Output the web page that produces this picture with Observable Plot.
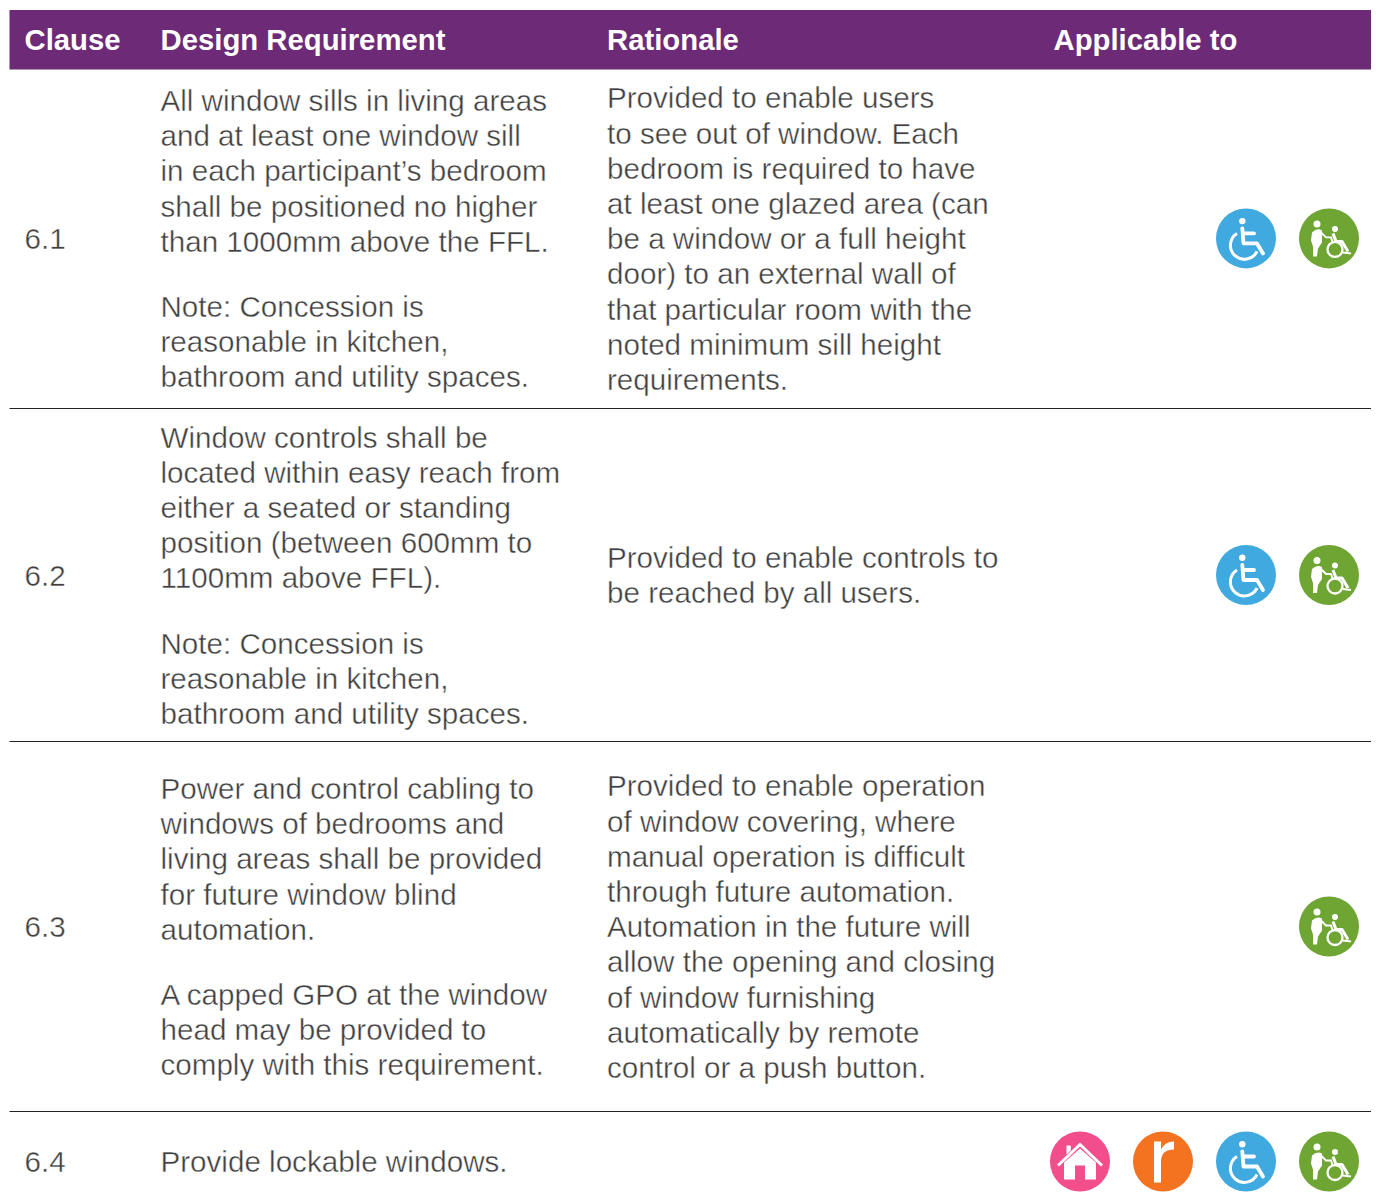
<!DOCTYPE html>
<html><head><meta charset="utf-8">
<script src="https://cdn.jsdelivr.net/npm/d3@7"></script>
<script src="https://cdn.jsdelivr.net/npm/@observablehq/plot@0.6"></script>
<style>html,body{margin:0;padding:0;background:#fff}svg{display:block}</style>
</head><body><div id="c"></div>
<script>
const headers = ["Clause","Design Requirement","Rationale","Applicable to"];
const clauses = ["6.1","6.2","6.3","6.4"];
const requirements = [
 ["All window sills in living areas","and at least one window sill","in each participant’s bedroom","shall be positioned no higher","than 1000mm above the FFL.","","Note: Concession is","reasonable in kitchen,","bathroom and utility spaces."],
 ["Window controls shall be","located within easy reach from","either a seated or standing","position (between 600mm to","1100mm above FFL).","","Note: Concession is","reasonable in kitchen,","bathroom and utility spaces."],
 ["Power and control cabling to","windows of bedrooms and","living areas shall be provided","for future window blind","automation.","","A capped GPO at the window","head may be provided to","comply with this requirement."],
 ["Provide lockable windows."]
];
const rationales = [
 ["Provided to enable users","to see out of window. Each","bedroom is required to have","at least one glazed area (can","be a window or a full height","door) to an external wall of","that particular room with the","noted minimum sill height","requirements."],
 ["Provided to enable controls to","be reached by all users."],
 ["Provided to enable operation","of window covering, where","manual operation is difficult","through future automation.","Automation in the future will","allow the opening and closing","of window furnishing","automatically by remote","control or a push button."],
 []
];
const applicable = [["wheelchair","carer"],["wheelchair","carer"],["carer"],["home","robust","wheelchair","carer"]];

// layout
const W=1376,H=1202,LH=35.2,GAP=30;
const colX=[24,160,606.5,1053];
const headBand=[10,69.5], tableX=[9.5,1371];
const rowCentre=[239.2,575.8,927.3,1162.3];
const rules=[408,741,1111];
const iconX={home:1079.5,robust:1162.5,wheelchair:1245.5,carer:1328.5};
const iconFill={home:"#F24E8C",robust:"#F47321",wheelchair:"#3FA9E0",carer:"#6FA533"};
const svg=b=>"data:image/svg+xml,"+encodeURIComponent(`<svg xmlns="http://www.w3.org/2000/svg" viewBox="-30 -30 60 60">${b}</svg>`);
const iconGlyph={
 home:svg(`<path d="M-13.5-16h4.3v5l-4.3 4z" fill="#fff"/><path d="M-22 4 0-17 22 4" fill="none" stroke="#fff" stroke-width="3"/><path d="M-16 1 0-13 16 1V18H5V4H-5V18H-16z" fill="#fff"/>`),
 robust:svg(`<path d="M-9-20H-2V-12Q2-20 11-20V-12Q-2-12-2 0V21H-9Z" fill="#fff"/>`),
 wheelchair:svg(`<circle cx="-3.7" cy="-17.3" r="3.2" fill="#fff"/><path d="M-3.7-10-2.5 5H11L17 15M-3-5H8" fill="none" stroke="#fff" stroke-width="3.8" stroke-linecap="round" stroke-linejoin="round"/><path d="M-9-5A14 14 0 1 0 11 13" fill="none" stroke="#fff" stroke-width="3"/>`),
 carer:svg(`<circle cx="-12" cy="-14.5" r="3.5" fill="#fff"/><circle cx="6" cy="-9.5" r="3" fill="#fff"/><path d="M-17-6Q-12-11-7-8L-7 4-11 10-12 18-16 18-16 8-18 2Z" fill="#fff"/><path d="M-8-6-3-1H2L4 5" fill="none" stroke="#fff" stroke-width="1.9"/><path d="M4-5 7 3H13L19 13" fill="none" stroke="#fff" stroke-width="3" stroke-linejoin="round"/><circle cx="6" cy="11" r="7.5" fill="none" stroke="#fff" stroke-width="2.3"/><path d="M14 14 22 15" stroke="#fff" stroke-width="2"/>`)
};

function stack(lines,centre,col){
  const n=lines.length, breaks=lines.filter(l=>l==="").length;
  const total=(n-breaks-1)*LH+breaks*GAP;
  let y=centre-total/2; const out=[];
  for(const l of lines){ if(l===""){y+=GAP;continue;} out.push({x:col,y,t:l}); y+=LH; }
  return out;
}
const bodyText=[];
clauses.forEach((c,i)=>{
  bodyText.push({x:colX[0],y:rowCentre[i],t:c});
  bodyText.push(...stack(requirements[i],rowCentre[i],colX[1]));
  bodyText.push(...stack(rationales[i],rowCentre[i],colX[2]));
});
const icons=applicable.flatMap((a,i)=>a.map(k=>({k,x:iconX[k],y:rowCentre[i]-1.3})));

const chart=Plot.plot({
  width:W,height:H,margin:0,
  x:{type:"linear",domain:[0,W],range:[0,W],axis:null},
  y:{type:"linear",domain:[0,H],range:[0,H],axis:null},
  marks:[
    Plot.rectY([0],{x1:tableX[0],x2:tableX[1],y1:headBand[0],y2:headBand[1],fill:"#6C2A77"}),
    Plot.ruleY(rules,{x1:tableX[0],x2:tableX[1],stroke:"#222",strokeWidth:1.2}),
    Plot.text(headers,{x:(d,i)=>colX[i],y:()=>40,text:d=>d,textAnchor:"start",fill:"#fff",fontSize:29.3,fontWeight:700,fontFamily:"Liberation Sans"}),
    Plot.text(bodyText,{x:"x",y:"y",text:"t",textAnchor:"start",fill:"#404040",stroke:"#fff",strokeWidth:0.4,paintOrder:"fill",fontSize:29.6,fontFamily:"Liberation Sans"}),
    Plot.dot(icons,{x:"x",y:"y",r:30,fill:d=>iconFill[d.k]}),
    Plot.image(icons,{x:"x",y:"y",width:60,height:60,src:d=>iconGlyph[d.k]})
  ]
});
document.getElementById("c").append(chart);
</script></body></html>
